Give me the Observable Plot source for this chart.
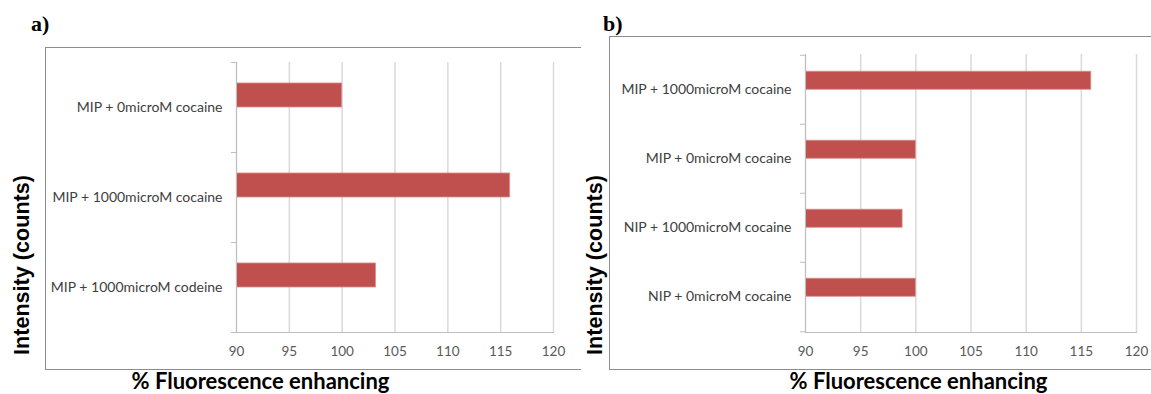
<!DOCTYPE html>
<html>
<head>
<meta charset="utf-8">
<script src="https://cdn.jsdelivr.net/npm/d3@7"></script>
<script src="https://cdn.jsdelivr.net/npm/@observablehq/plot@0.6"></script>
<style>
  html, body { margin: 0; padding: 0; background: #fff; }
  #root { position: relative; width: 1151px; height: 394px; overflow: hidden; background: #fff; }
  .box { position: absolute; box-sizing: border-box; border-top: 1px solid #8c8c8c; border-left: 1px solid #8c8c8c; border-bottom: 1px solid #8c8c8c; }
  .plot { position: absolute; }
  #overlay { position: absolute; left: 0; top: 0; pointer-events: none; }
</style>
</head>
<body>
<div id="root">
  <div class="box" style="left:45px;top:47px;width:536px;height:323px;"></div>
  <div class="box" style="left:609px;top:36px;width:560px;height:334px;"></div>
  <div class="plot" id="pa" style="left:45px;top:47px;"></div>
  <div class="plot" id="pb" style="left:609px;top:36px;"></div>
</div>
<script>
// ---- data ----
const panelLabels = ["a)", "b)"];
const categoriesA = ["MIP + 0microM cocaine", "MIP + 1000microM cocaine", "MIP + 1000microM codeine"];
const valuesA = [100, 115.9, 103.2];
const categoriesB = ["MIP + 1000microM cocaine", "MIP + 0microM cocaine", "NIP + 1000microM cocaine", "NIP + 0microM cocaine"];
const valuesB = [115.9, 100, 98.8, 100];
const xTicks = [90, 95, 100, 105, 110, 115, 120];
const xTitle = "% Fluorescence enhancing";
const yTitle = "Intensity (counts)";

function panel(cats, vals, o) {
  const data = cats.map((c, i) => ({c, v: vals[i]}));
  const bw = (o.height - o.mt - o.mb) / cats.length;
  const axisColor = "#bfbfbf";
  return Plot.plot({
    width: o.width, height: o.height,
    marginLeft: o.ml, marginRight: o.mr, marginTop: o.mt, marginBottom: o.mb,
    style: {fontFamily: "Lato, sans-serif", background: "transparent", overflow: "visible"},
    x: {domain: [xTicks[0], xTicks[xTicks.length - 1]]},
    y: {domain: cats, padding: 0},
    marks: [
      Plot.gridX(xTicks, {stroke: "#d9d9d9", strokeOpacity: 1, strokeWidth: 1.5}),
      Plot.barX(data, {x: "v", y: "c", fill: "#c0504d", stroke: "#d8908e", strokeWidth: 0.8,
        insetTop: bw * 0.233, insetBottom: bw * 0.5, clip: true}),
      Plot.frame({anchor: "left", stroke: axisColor}),
      Plot.frame({anchor: "bottom", stroke: axisColor}),
      Plot.axisX(xTicks, {tickSize: 0, tickPadding: 14, fontSize: 13.5, fill: "#595959", label: null}),
      Plot.axisY(cats, {tickSize: 0, tickPadding: 14, fontSize: 14, fill: "#404040", label: null}),
      Plot.axisY(cats, {tickSize: 5, tickFormat: () => "", dy: -bw / 2, stroke: axisColor, label: null}),
      Plot.axisY([cats[cats.length - 1]], {tickSize: 5, tickFormat: () => "", dy: bw / 2, stroke: axisColor, label: null})
    ]
  });
}

document.getElementById("pa").append(panel(categoriesA, valuesA,
  {width: 536, height: 322, ml: 191, mr: 28, mt: 15, mb: 37}));
document.getElementById("pb").append(panel(categoriesB, valuesB,
  {width: 542, height: 333, ml: 196, mr: 15, mt: 18, mb: 37}));

// ---- overlay titles ----
const svg = d3.select("#root").append("svg").attr("id", "overlay")
  .attr("width", 1151).attr("height", 394);
const panels = [
  {label: panelLabels[0], lx: 31, ly: 31, ytx: 28.5, xtx: 260.5},
  {label: panelLabels[1], lx: 603, ly: 31, ytx: 601.5, xtx: 918.5}
];
for (const p of panels) {
  svg.append("text").attr("x", p.lx).attr("y", p.ly).text(p.label)
    .attr("font-family", "'Liberation Serif', 'Times New Roman', serif")
    .attr("font-weight", "bold").attr("font-size", 22).attr("fill", "#000");
  svg.append("text").attr("transform", `translate(${p.ytx},265) rotate(-90)`)
    .attr("text-anchor", "middle").text(yTitle)
    .attr("font-family", "'Liberation Sans', Arial, sans-serif")
    .attr("font-weight", "bold").attr("font-size", 21.6).attr("fill", "#000");
  svg.append("text").attr("x", p.xtx).attr("y", 389).attr("text-anchor", "middle").text(xTitle)
    .attr("font-family", "Lato, sans-serif")
    .attr("font-weight", "bold").attr("font-size", 22).attr("fill", "#000");
}
</script>
</body>
</html>
